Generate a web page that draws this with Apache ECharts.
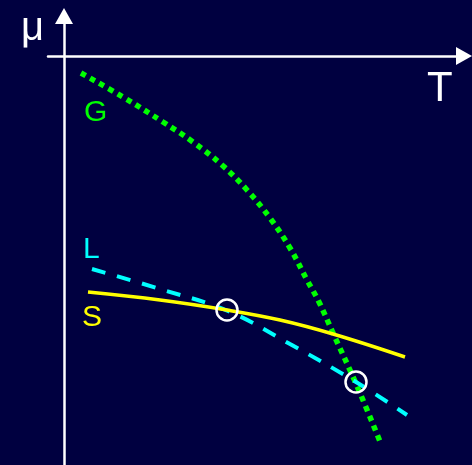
<!DOCTYPE html>
<html><head><meta charset="utf-8">
<script src="https://cdn.jsdelivr.net/npm/echarts@6/dist/echarts.min.js"></script>
<style>html,body{margin:0;padding:0;background:#000040;}#c{width:472px;height:465px;}</style>
</head><body><div id="c"></div>
<script>
// Data (T, μ) in arbitrary units
const gT  = [1.7, 5.9, 9.9, 12.9, 15.8, 18.3, 20.6, 22.6, 24.3, 25.5, 26.9, 29.3, 31.7];
const gMu = [-1.7, -4.1, -6.6, -8.6, -10.9, -13.4, -16.2, -19.2, -22.4, -24.6, -27.7, -33.0, -38.8];
const lT  = [2.8, 9.6, 16.4, 22.6, 29.2, 34.3];
const lMu = [-21.3, -23.3, -25.5, -28.8, -32.6, -35.9];
const sT  = [2.4, 9.6, 16.3, 21.6, 26.9, 34.1];
const sMu = [-23.6, -24.4, -25.4, -26.4, -27.8, -30.1];
const crossT  = [16.3, 29.2];
const crossMu = [-25.4, -32.6];
const seriesNames = ['G', 'L', 'S'];
const axisNames = ['T', 'μ'];

const zip = (a, b) => a.map((v, i) => [v, b[i]]);
const font = 'Liberation Sans, Arial, sans-serif';

const chart = echarts.init(document.getElementById('c'), null, {renderer: 'canvas'});
chart.setOption({
  backgroundColor: '#000040',
  animation: false,
  grid: {left: 48, right: 8, top: 16, bottom: 0},
  xAxis: {
    type: 'value', min: -1.6, max: 40.0,
    axisLine: {show: true, onZero: true, symbol: ['none', 'triangle'], symbolSize: [18, 16],
      lineStyle: {color: '#ffffff', width: 2.5}},
    axisTick: {show: false}, axisLabel: {show: false}, splitLine: {show: false}
  },
  yAxis: {
    type: 'value', min: -40.9, max: 4.0,
    axisLine: {show: true, onZero: true, symbol: ['none', 'triangle'], symbolSize: [18, 16],
      lineStyle: {color: '#ffffff', width: 2.5}},
    axisTick: {show: false}, axisLabel: {show: false}, splitLine: {show: false}
  },
  series: [
    {name: seriesNames[0], type: 'line', data: zip(gT, gMu), smooth: 0.4, showSymbol: false,
      lineStyle: {color: '#00ff00', width: 5.5, type: [5.5, 5], cap: 'butt'}},
    {name: seriesNames[1], type: 'line', data: zip(lT, lMu), smooth: 0.4, showSymbol: false,
      lineStyle: {color: '#00ffff', width: 4, type: [14, 12], cap: 'butt'}},
    {name: seriesNames[2], type: 'line', data: zip(sT, sMu), smooth: 0.4, showSymbol: false,
      lineStyle: {color: '#ffff00', width: 3.5}},
    {type: 'scatter', data: zip(crossT, crossMu), symbol: 'circle', symbolSize: 21,
      itemStyle: {color: 'rgba(0,0,0,0)', borderColor: '#ffffff', borderWidth: 2.5, opacity: 1}, z: 5}
  ],
  graphic: [
    {type: 'text', left: 21, top: 9, style: {text: axisNames[1], fill: '#ffffff', font: '40px ' + font}},
    {type: 'text', left: 427, top: 68, style: {text: axisNames[0], fill: '#ffffff', font: '42px ' + font}},
    {type: 'text', left: 84, top: 98, style: {text: seriesNames[0], fill: '#00ff00', font: '30px ' + font}},
    {type: 'text', left: 83, top: 235, style: {text: seriesNames[1], fill: '#00ffff', font: '30px ' + font}},
    {type: 'text', left: 82, top: 303, style: {text: seriesNames[2], fill: '#ffff00', font: '30px ' + font}}
  ]
});
</script>
</body></html>
